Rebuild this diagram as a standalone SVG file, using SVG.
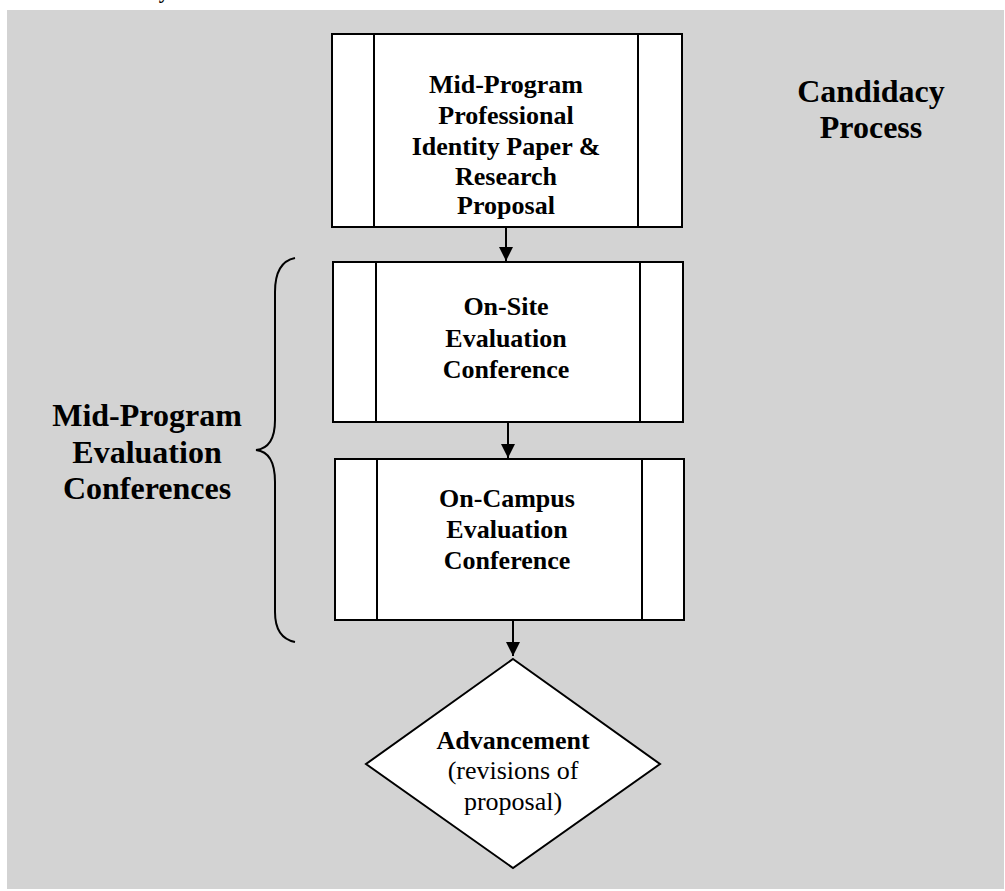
<svg xmlns="http://www.w3.org/2000/svg" width="1005" height="891" viewBox="0 0 1005 891">
<style>
.box{fill:#fff;stroke:#000;stroke-width:2}
.ln{stroke:#000;stroke-width:2;fill:none}
.t{font-family:"Liberation Serif","Times New Roman",serif;font-weight:bold;font-size:26px;text-anchor:middle;fill:#000}
.big{font-size:32px}
.n{font-weight:normal}
</style>
<defs>
<marker id="ah" markerWidth="14" markerHeight="15" refX="14" refY="7" orient="auto" markerUnits="userSpaceOnUse" viewBox="0 0 14 14">
<path d="M0,0 L14,7 L0,14 Z" fill="#000"/>
</marker>
</defs>
<rect x="7" y="10" width="997" height="879" fill="#d3d3d3"/>
<text class="t" x="164" y="-2" style="font-size:21px">y</text>
<g id="title">
<text class="t big" x="871" y="102">Candidacy</text>
<text class="t big" x="871" y="138">Process</text>
</g>
<g id="box1">
<rect class="box" x="332" y="34" width="350" height="193"/>
<line class="ln" x1="374" y1="34" x2="374" y2="227"/>
<line class="ln" x1="638" y1="34" x2="638" y2="227"/>
<text class="t" x="506" y="93">Mid-Program</text>
<text class="t" x="506" y="124">Professional</text>
<text class="t" x="506" y="155">Identity Paper &amp;</text>
<text class="t" x="506" y="185">Research</text>
<text class="t" x="506" y="214">Proposal</text>
</g>
<g id="box2">
<rect class="box" x="333" y="262" width="350" height="160"/>
<line class="ln" x1="376" y1="262" x2="376" y2="422"/>
<line class="ln" x1="640" y1="262" x2="640" y2="422"/>
<text class="t" x="506" y="315">On-Site</text>
<text class="t" x="506" y="347">Evaluation</text>
<text class="t" x="506" y="378">Conference</text>
</g>
<g id="box3">
<rect class="box" x="335" y="459" width="349" height="161"/>
<line class="ln" x1="377" y1="459" x2="377" y2="620"/>
<line class="ln" x1="642" y1="459" x2="642" y2="620"/>
<text class="t" x="507" y="507">On-Campus</text>
<text class="t" x="507" y="538">Evaluation</text>
<text class="t" x="507" y="569">Conference</text>
</g>
<g id="advancement">
<polygon class="box" points="513,659 660,764 513,868 366,764"/>
<text class="t" x="513" y="749">Advancement</text>
<text class="t n" x="513" y="779">(revisions of</text>
<text class="t n" x="513" y="810">proposal)</text>
</g>
<g id="group-label">
<path class="ln" d="M295,258 Q275,262 275,292 L275,420 Q275,448 256,450 Q275,452 275,482 L275,612 Q275,638 295,642"/>
<text class="t big" x="147" y="426">Mid-Program</text>
<text class="t big" x="147" y="463">Evaluation</text>
<text class="t big" x="147" y="499">Conferences</text>
</g>
<g id="connectors">
<line class="ln" x1="506" y1="228" x2="506" y2="261" marker-end="url(#ah)"/>
<line class="ln" x1="508" y1="423" x2="508" y2="458" marker-end="url(#ah)"/>
<line class="ln" x1="513" y1="621" x2="513" y2="656" marker-end="url(#ah)"/>
</g>
</svg>
